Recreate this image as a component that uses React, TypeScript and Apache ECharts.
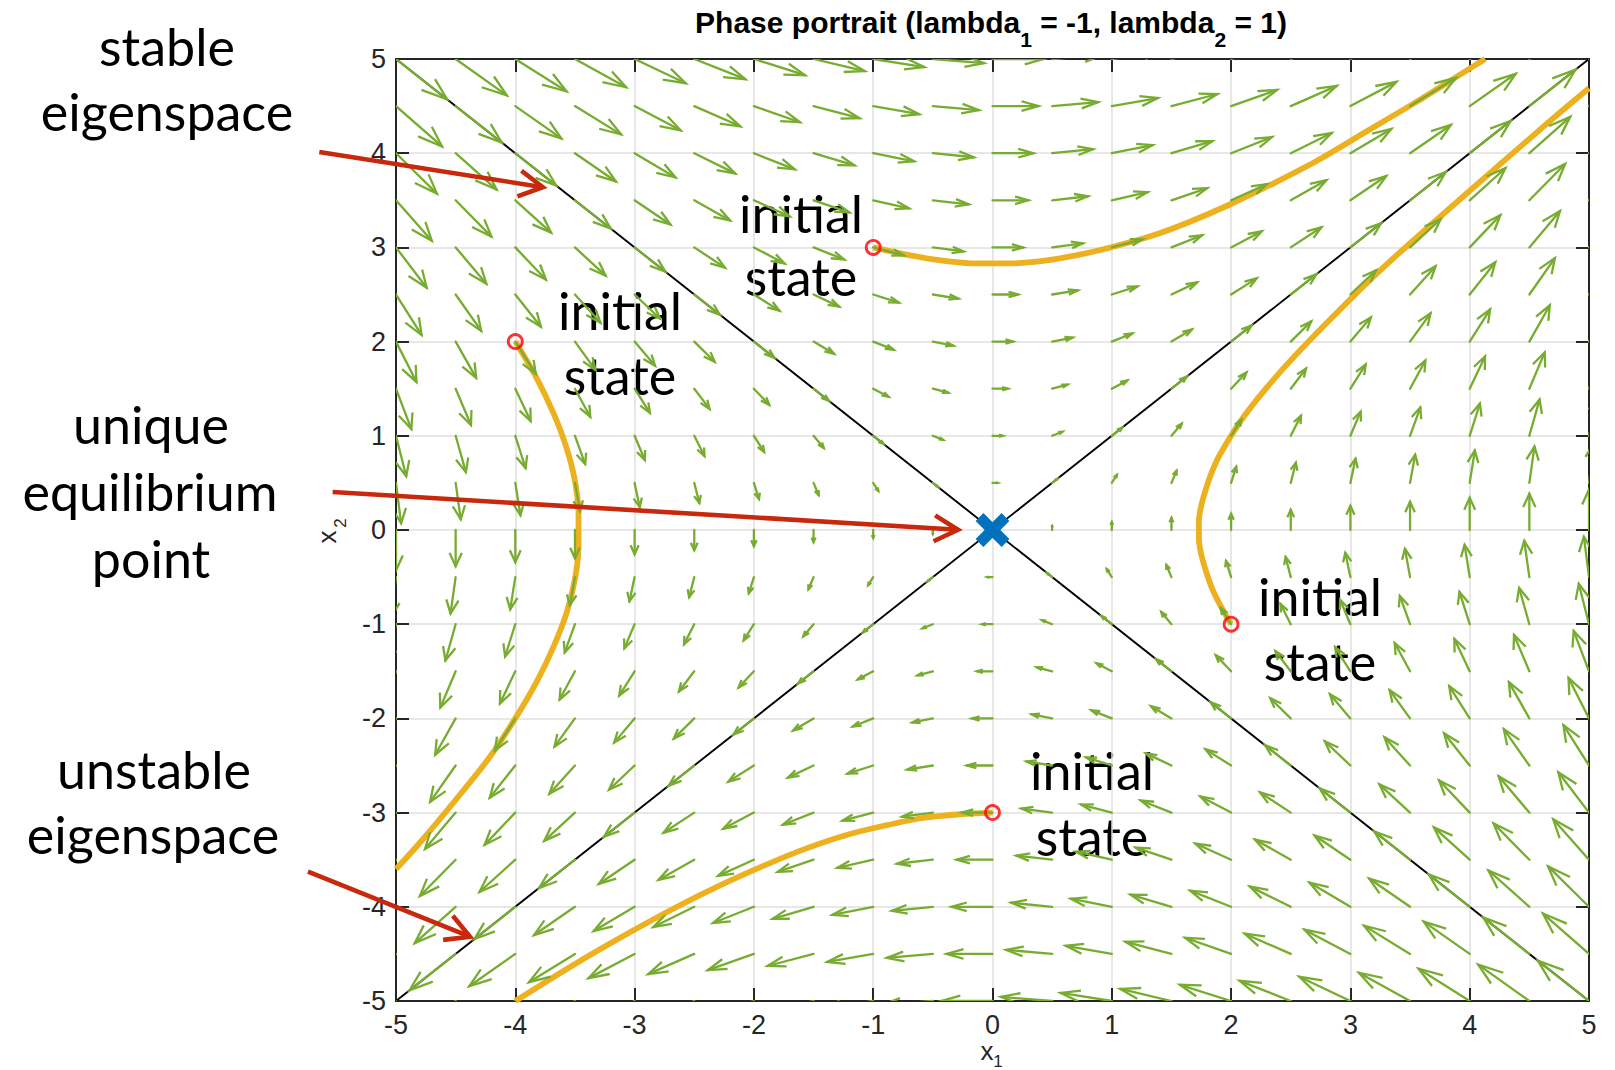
import React, { useEffect, useRef } from "react";
import * as echarts from "echarts";

// Sampling lattice of the quiver plot (same on both axes)
const latticeSteps = [-5, -4.5, -4, -3.5, -3, -2.5, -2, -1.5, -1, -0.5, 0, 0.5, 1, 1.5, 2, 2.5, 3, 3.5, 4, 4.5, 5];

// Linear system x' = A x (eigenvalues -1 and 1)
const systemMatrix = [
  [0, 1],
  [1, 0],
];

const axisMin = -5;
const axisMax = 5;
const axisStep = 1;

// Initial states of the four simulated trajectories
const initialStates = [
  [-1, 3],
  [-4, 2],
  [2, -1],
  [0, -3],
];

// Trajectories (x1, x2), from the initial state until they leave the box
const trajectoryUpper = [
  [-1, 3], [-0.71, 2.92], [-0.42, 2.86], [-0.13, 2.83], [0.15, 2.83], [0.44, 2.86], [0.72, 2.92],
  [1.02, 3.01], [1.33, 3.12], [1.65, 3.27], [1.98, 3.45], [2.34, 3.67], [2.72, 3.92], [3.12, 4.22],
  [3.56, 4.55], [4.04, 4.93], [4.13, 5.0],
];
const trajectoryLeft = [
  [-4, 2], [-3.82, 1.61], [-3.68, 1.24], [-3.57, 0.87], [-3.5, 0.52], [-3.47, 0.17], [-3.47, -0.18],
  [-3.5, -0.52], [-3.57, -0.88], [-3.68, -1.24], [-3.82, -1.61], [-4.0, -2.0], [-4.22, -2.42],
  [-4.49, -2.85], [-4.8, -3.32], [-5.0, -3.6],
];
const trajectoryRight = [
  [2, -1], [1.91, -0.8], [1.84, -0.62], [1.79, -0.44], [1.75, -0.26], [1.73, -0.09], [1.73, 0.09],
  [1.75, 0.26], [1.79, 0.44], [1.84, 0.62], [1.91, 0.81], [2.11, 1.21], [2.4, 1.66], [2.78, 2.17],
  [3.27, 2.78], [3.9, 3.49], [4.68, 4.35], [5.0, 4.69],
];
const trajectoryLower = [
  [0, -3], [-0.3, -3.02], [-0.6, -3.06], [-0.91, -3.14], [-1.23, -3.24], [-1.56, -3.38], [-1.91, -3.56],
  [-2.28, -3.77], [-2.66, -4.01], [-3.08, -4.3], [-3.53, -4.63], [-4.0, -5.0],
];

// Eigenspaces
const stableEigenspace = [
  [-5, 5],
  [5, -5],
];
const unstableEigenspace = [
  [-5, -5],
  [5, 5],
];
const equilibriumPoint = [[0, 0]];

// Callout arrows [fromX1, fromX2, toX1, toX2]
const calloutArrows = [
  [-5.643, 4.012, -3.769, 3.639],
  [-5.531, 0.403, -0.289, 0.003],
  [-5.738, -3.627, -4.38, -4.317],
];

const TICK_FONT = '"Liberation Sans", Helvetica, Arial, sans-serif';
const NOTE_FONT = 'Lato, "Open Sans", "Noto Sans", sans-serif';
const AXIS_COLOR = "#262626";
const GRID_COLOR = "#DFDFDF";
const QUIVER_COLOR = "#77AC30";
const PATH_COLOR = "#EDB120";
const CALLOUT_COLOR = "#C8280C";
const EQ_COLOR = "#0072BD";

// Vector field on the lattice, scaled like MATLAB's quiver autoscale
function buildQuiver() {
  const field: number[][] = [];
  for (const x1 of latticeSteps) {
    for (const x2 of latticeSteps) {
      const u = systemMatrix[0][0] * x1 + systemMatrix[0][1] * x2;
      const v = systemMatrix[1][0] * x1 + systemMatrix[1][1] * x2;
      field.push([x1, x2, u, v]);
    }
  }
  const n = latticeSteps.length;
  const span = latticeSteps[n - 1] - latticeSteps[0];
  const del = 2 * (span / n) ** 2;
  const maxLen = Math.max(...field.map((f) => Math.sqrt((f[2] * f[2] + f[3] * f[3]) / del)));
  const s = 0.9 / maxLen;
  return field.map(([x, y, u, v]) => [x, y, u * s, v * s]);
}

const HEAD_ALPHA = 0.37;
const HEAD_BETA = 0.36;

function quiverItem(_params: any, api: any) {
  const x = api.value(0);
  const y = api.value(1);
  const u = api.value(2);
  const v = api.value(3);
  if (u === 0 && v === 0) return { type: "group", children: [] };
  const tx = x + u;
  const ty = y + v;
  const p0 = api.coord([x, y]);
  const p1 = api.coord([tx, ty]);
  const w1 = api.coord([tx - HEAD_ALPHA * (u + HEAD_BETA * v), ty - HEAD_ALPHA * (v - HEAD_BETA * u)]);
  const w2 = api.coord([tx - HEAD_ALPHA * (u - HEAD_BETA * v), ty - HEAD_ALPHA * (v + HEAD_BETA * u)]);
  const style = { stroke: QUIVER_COLOR, lineWidth: 2.3, fill: "none" };
  return {
    type: "group",
    children: [
      { type: "line", shape: { x1: p0[0], y1: p0[1], x2: p1[0], y2: p1[1] }, style: { ...style, lineCap: "round" } },
      { type: "polyline", shape: { points: [w1, p1, w2] }, style: { ...style, lineJoin: "miter" } },
    ],
  };
}

function calloutItem(_params: any, api: any) {
  const a = api.coord([api.value(0), api.value(1)]);
  const b = api.coord([api.value(2), api.value(3)]);
  const ang = Math.atan2(b[1] - a[1], b[0] - a[0]);
  const L = 27;
  const spread = 0.5;
  const w1 = [b[0] - L * Math.cos(ang - spread), b[1] - L * Math.sin(ang - spread)];
  const w2 = [b[0] - L * Math.cos(ang + spread), b[1] - L * Math.sin(ang + spread)];
  const style = { stroke: CALLOUT_COLOR, lineWidth: 4.6, fill: "none" };
  return {
    type: "group",
    children: [
      { type: "line", shape: { x1: a[0], y1: a[1], x2: b[0], y2: b[1] }, style },
      { type: "polyline", shape: { points: [w1, b, w2] }, style: { ...style, lineJoin: "miter" } },
    ],
  };
}

function equilibriumItem(_params: any, api: any) {
  const c = api.coord([api.value(0), api.value(1)]);
  const d = 13;
  const style = { stroke: EQ_COLOR, lineWidth: 11, lineCap: "butt" };
  return {
    type: "group",
    children: [
      { type: "line", shape: { x1: c[0] - d, y1: c[1] - d, x2: c[0] + d, y2: c[1] + d }, style },
      { type: "line", shape: { x1: c[0] - d, y1: c[1] + d, x2: c[0] + d, y2: c[1] - d }, style },
    ],
  };
}

function noteText(text: string, x: number, y: number) {
  return {
    type: "text",
    x,
    y,
    silent: true,
    style: {
      text,
      fontFamily: NOTE_FONT,
      fontSize: 52,
      fill: "#000",
      align: "center",
      verticalAlign: "middle",
    },
  };
}

function plainText(text: string, x: number, y: number, size: number, rotation = 0) {
  return {
    type: "text",
    x,
    y,
    rotation,
    silent: true,
    style: {
      text,
      fontFamily: TICK_FONT,
      fontSize: size,
      fill: AXIS_COLOR,
      align: "center",
      verticalAlign: "middle",
    },
  };
}

function valueAxis(position: string, labels: boolean) {
  return {
    type: "value",
    min: axisMin,
    max: axisMax,
    interval: axisStep,
    position,
    axisLine: { show: true, onZero: false, lineStyle: { color: AXIS_COLOR, width: 2 } },
    axisTick: { show: true, inside: true, length: 13, lineStyle: { color: AXIS_COLOR, width: 2 } },
    axisLabel: {
      show: labels,
      fontFamily: TICK_FONT,
      fontSize: 27,
      color: AXIS_COLOR,
      margin: 10,
    },
    splitLine: { show: labels, lineStyle: { color: GRID_COLOR, width: 1.5 } },
  };
}

function buildOption() {
  const trajectories = [trajectoryUpper, trajectoryLeft, trajectoryRight, trajectoryLower];
  return {
    animation: false,
    backgroundColor: "#ffffff",
    grid: { left: 396, right: 26, top: 59, bottom: 69 },
    xAxis: [valueAxis("bottom", true), valueAxis("top", false)],
    yAxis: [valueAxis("left", true), valueAxis("right", false)],
    series: [
      ...[stableEigenspace, unstableEigenspace].map((d) => ({
        type: "line",
        data: d,
        symbol: "none",
        silent: true,
        z: 2,
        lineStyle: { color: "#000", width: 1.9 },
      })),
      ...trajectories.map((d) => ({
        type: "line",
        data: d,
        symbol: "none",
        smooth: 0.3,
        silent: true,
        z: 3,
        lineStyle: { color: PATH_COLOR, width: 5.8 },
      })),
      {
        type: "custom",
        data: buildQuiver(),
        renderItem: quiverItem,
        clip: true,
        silent: true,
        z: 4,
        encode: { x: 0, y: 1 },
      },
      {
        type: "scatter",
        data: initialStates,
        symbol: "circle",
        symbolSize: 14,
        silent: true,
        z: 5,
        itemStyle: { color: "rgba(0,0,0,0)", borderColor: "#FF0000", borderWidth: 2.8 },
      },
      {
        type: "custom",
        data: equilibriumPoint,
        renderItem: equilibriumItem,
        silent: true,
        z: 6,
        encode: { x: 0, y: 1 },
      },
      {
        type: "custom",
        data: calloutArrows,
        renderItem: calloutItem,
        clip: false,
        silent: true,
        z: 7,
        encode: { x: [0, 2], y: [1, 3] },
      },
    ],
    graphic: [
      {
        type: "text",
        x: 991,
        y: 7,
        silent: true,
        style: {
          text: "{m|Phase portrait (lambda}{s|1}{m| = -1, lambda}{s|2}{m| = 1)}",
          align: "center",
          verticalAlign: "top",
          rich: {
            m: { fontFamily: TICK_FONT, fontSize: 30, fontWeight: "bold", fill: "#000", color: "#000", lineHeight: 32, verticalAlign: "top" },
            s: { fontFamily: TICK_FONT, fontSize: 21, fontWeight: "bold", fill: "#000", color: "#000", lineHeight: 21, padding: [22, 0, 0, 0], verticalAlign: "top" },
          },
        },
      },
      plainText("x", 987, 1051, 26),
      plainText("1", 998, 1061, 17),
      plainText("x", 327, 537, 26, Math.PI / 2),
      plainText("2", 340, 523, 17, Math.PI / 2),
      noteText("stable", 167, 46),
      noteText("eigenspace", 167, 111),
      noteText("unique", 151, 424),
      noteText("equilibrium", 150, 491),
      noteText("point", 151, 558),
      noteText("unstable", 154, 769),
      noteText("eigenspace", 153, 834),
      noteText("initial", 801, 213),
      noteText("state", 801, 276),
      noteText("initial", 620, 310),
      noteText("state", 620, 375),
      noteText("initial", 1320, 596),
      noteText("state", 1320, 661),
      noteText("initial", 1092, 770),
      noteText("state", 1092, 836),
    ],
  };
}

export default function App() {
  const ref = useRef<HTMLDivElement>(null);
  useEffect(() => {
    const chart = echarts.init(ref.current as HTMLDivElement, null, { renderer: "svg" });
    chart.setOption(buildOption() as any);
    return () => chart.dispose();
  }, []);
  return (
    <div
      ref={ref}
      style={{ position: "fixed", left: 0, top: 0, width: 1615, height: 1070, background: "#fff" }}
    />
  );
}
